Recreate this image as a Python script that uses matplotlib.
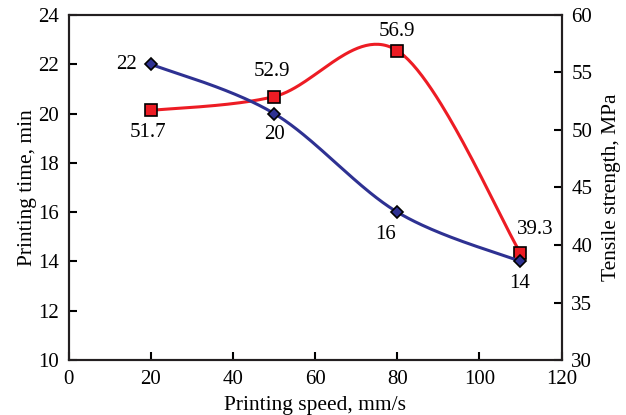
import numpy as np
import matplotlib
matplotlib.use('Agg')
from matplotlib import pyplot as plt

speed = [20, 50, 80, 110]
print_time = [22, 20, 16, 14]
strength = [51.7, 52.9, 56.9, 39.3]

time_labels = ['22', '20', '16', '14']
strength_labels = ['51.7', '52.9', '56.9', '39.3']

# label offsets in pixels
time_offsets = [(-24, 0), (0, -21), (-12, -22), (-1, -22)]
strength_offsets = [(-3, -22), (-2, 25), (0, 19), (15, 24)]

BLUE = '#2e3192'
RED = '#ed1c24'


def smooth(xs, ys, n=60):
    # bezier smoothing like spreadsheet "smooth line"
    pts = np.column_stack([xs, ys]).astype(float)
    pts_ext = np.vstack([pts[0], pts, pts[-1]])
    out = []
    for i in range(len(pts) - 1):
        p0, p1, p2, p3 = pts_ext[i], pts_ext[i + 1], pts_ext[i + 2], pts_ext[i + 3]
        c1 = p1 + (p2 - p0) / 6
        c2 = p2 - (p3 - p1) / 6
        t = np.linspace(0, 1, n)[:, None]
        seg = ((1 - t) ** 3) * p1 + 3 * ((1 - t) ** 2) * t * c1 + 3 * (1 - t) * t ** 2 * c2 + t ** 3 * p2
        out.append(seg)
    out = np.vstack(out)
    return out[:, 0], out[:, 1]


plt.rcParams['font.family'] = ['Liberation Serif', 'DejaVu Serif']
plt.rcParams['font.size'] = 15

fig = plt.figure(figsize=(6.26, 4.15), dpi=100)
ax = fig.add_axes([0.110, 0.1325, 0.787, 0.8315])
ax2 = ax.twinx()
ax.set_zorder(ax2.get_zorder() + 1)
ax.patch.set_visible(False)

sx, sy = smooth(speed, strength)
ax2.plot(sx, sy, color=RED, lw=2.2)
ax2.plot(speed, strength, 's', color=RED, mec='black', mew=1.2, ms=8, ls='none')
for x, y, lab, off in zip(speed, strength, strength_labels, strength_offsets):
    ax2.annotate(lab, (x, y), xytext=off, textcoords='offset pixels', ha='center', va='center', fontsize=15)

tx, ty = smooth(speed, print_time)
ax.plot(tx, ty, color=BLUE, lw=2.2)
ax.plot(speed, print_time, 'D', color=BLUE, mec='black', mew=1.2, ms=6.5, ls='none')
for x, y, lab, off in zip(speed, print_time, time_labels, time_offsets):
    ax.annotate(lab, (x, y), xytext=off, textcoords='offset pixels', ha='center', va='center', fontsize=15)

ax.set_xlim(0, 120)
ax.set_ylim(10, 24)
ax2.set_ylim(30, 60)
ax.set_xticks(np.arange(0, 121, 20))
ax.set_yticks(np.arange(10, 25, 2))
ax2.set_yticks(np.arange(30, 61, 5))

for a in (ax, ax2):
    for s in a.spines.values():
        s.set_linewidth(1.5)
        s.set_color('#231f20')
ax.tick_params(direction='in', length=6, width=1.5, labelsize=15, pad=7)
ax2.tick_params(direction='in', length=6, width=1.5, labelsize=15, pad=7)

ax.set_xlabel('Printing speed, mm/s', fontsize=15.5, labelpad=5)
ax.set_ylabel('Printing time, min', fontsize=15.5, labelpad=1)
ax2.set_ylabel('Tensile strength, MPa', fontsize=15.5, labelpad=7)

fig.savefig('out.png', dpi=100)
